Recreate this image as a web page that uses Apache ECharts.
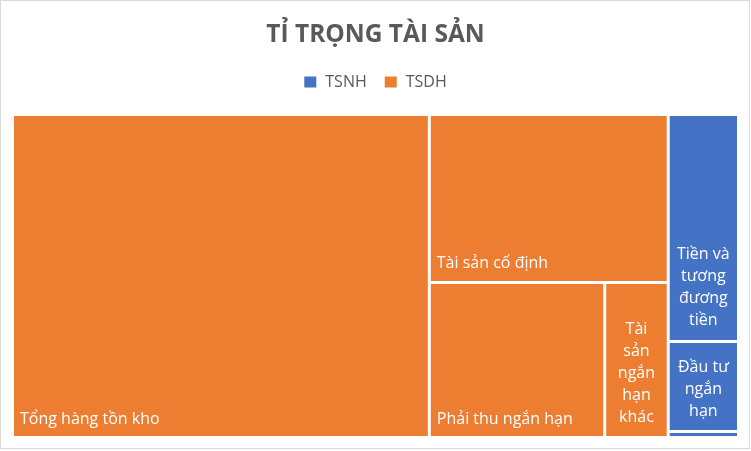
<!DOCTYPE html>
<html>
<head>
<meta charset="utf-8">
<script src="https://cdn.jsdelivr.net/npm/echarts@6/dist/echarts.min.js"></script>
<style>
html,body{margin:0;padding:0;background:#fff;}
#chart{position:absolute;left:0;top:0;width:751px;height:451px;}
#frame{position:absolute;left:0;top:0;width:748px;height:447px;border:1px solid #d9d9d9;pointer-events:none;}
</style>
</head>
<body>
<div id="chart"></div>
<div id="frame"></div>
<script>
// Groups (legend order) and colours
const groupNames = ['TSNH', 'TSDH'];
const groupColors = ['#4472C4', '#ED7D31'];

// TSDH children (orange)
const tsdhNames = ['Tổng hàng tồn kho', 'Tài sản cố định', 'Phải thu ngắn hạn', 'Tài sản ngắn hạn khác'];
const tsdhValues = [57.4, 17.1, 11.6, 4.2];

// TSNH children (blue)
const tsnhNames = ['Tiền và tương đương tiền', 'Đầu tư ngắn hạn', 'Khác'];
const tsnhValues = [6.8, 2.7, 0.18];

// Narrow cells: label lines (wrapped, centred)
const wrappedLabels = {
  'Tài sản ngắn hạn khác': ['Tài', 'sản', 'ngắn', 'hạn', 'khác'],
  'Tiền và tương đương tiền': ['Tiền và', 'tương', 'đương', 'tiền'],
  'Đầu tư ngắn hạn': ['Đầu tư', 'ngắn', 'hạn']
};
const hiddenLabels = ['Khác'];

function makeChildren(names, values, color) {
  return names.map(function (n, i) {
    const item = { name: n, value: values[i], itemStyle: { color: color } };
    if (wrappedLabels[n]) {
      item.label = {
        position: 'insideBottom', align: 'center', distance: 3, overflow: 'none',
        formatter: wrappedLabels[n].join('\n')
      };
    }
    if (hiddenLabels.indexOf(n) >= 0) {
      item.label = { show: false };
    }
    return item;
  });
}

const tsdhTotal = tsdhValues.reduce(function (a, b) { return a + b; }, 0);
const tsnhTotal = tsnhValues.reduce(function (a, b) { return a + b; }, 0);

const treeData = [
  { name: 'TSDH', value: tsdhTotal, itemStyle: { color: groupColors[1] },
    children: makeChildren(tsdhNames, tsdhValues, groupColors[1]) },
  { name: 'TSNH', value: tsnhTotal, itemStyle: { color: groupColors[0] },
    children: makeChildren(tsnhNames, tsnhValues, groupColors[0]) }
];

const chart = echarts.init(document.getElementById('chart'), null, { renderer: 'canvas' });
chart.setOption({
  animation: false,
  backgroundColor: '#fff',
  title: {
    text: 'TỈ TRỌNG TÀI SẢN',
    left: 'center',
    top: 18,
    textStyle: { fontFamily: 'Open Sans', fontWeight: 'bold', fontSize: 24.5, color: '#595959' }
  },
  legend: {
    top: 69,
    left: 'center',
    itemWidth: 12,
    itemHeight: 11,
    itemGap: 18,
    icon: 'rect',
    data: groupNames,
    textStyle: { fontFamily: 'Open Sans', fontSize: 16, color: '#595959', padding: [0, 0, 0, 4] },
    selectedMode: false
  },
  series: [
    {
      type: 'pie',
      radius: [0, 0],
      silent: true,
      stillShowZeroSum: false,
      label: { show: false },
      labelLine: { show: false },
      data: groupNames.map(function (n, i) { return { name: n, value: 0, itemStyle: { color: groupColors[i] } }; })
    },
    {
      type: 'treemap',
      left: 14,
      top: 116,
      right: 14,
      bottom: 15,
      roam: false,
      nodeClick: false,
      squareRatio: 1,
      breadcrumb: { show: false },
      silent: true,
      label: {
        show: true,
        position: 'insideBottomLeft',
        distance: 1,
        color: '#fff',
        fontFamily: 'Open Sans',
        fontSize: 16,
        lineHeight: 22,
        overflow: 'break',
        formatter: '{b}'
      },
      upperLabel: { show: false },
      itemStyle: { borderWidth: 0, gapWidth: 3, borderColor: '#fff' },
      levels: [
        { itemStyle: { borderWidth: 0, gapWidth: 3, borderColor: '#fff' } },
        { itemStyle: { borderWidth: 0, gapWidth: 3, borderColor: '#fff' } },
        { itemStyle: { borderWidth: 0, gapWidth: 0 } }
      ],
      data: treeData
    }
  ]
});
</script>
</body>
</html>
